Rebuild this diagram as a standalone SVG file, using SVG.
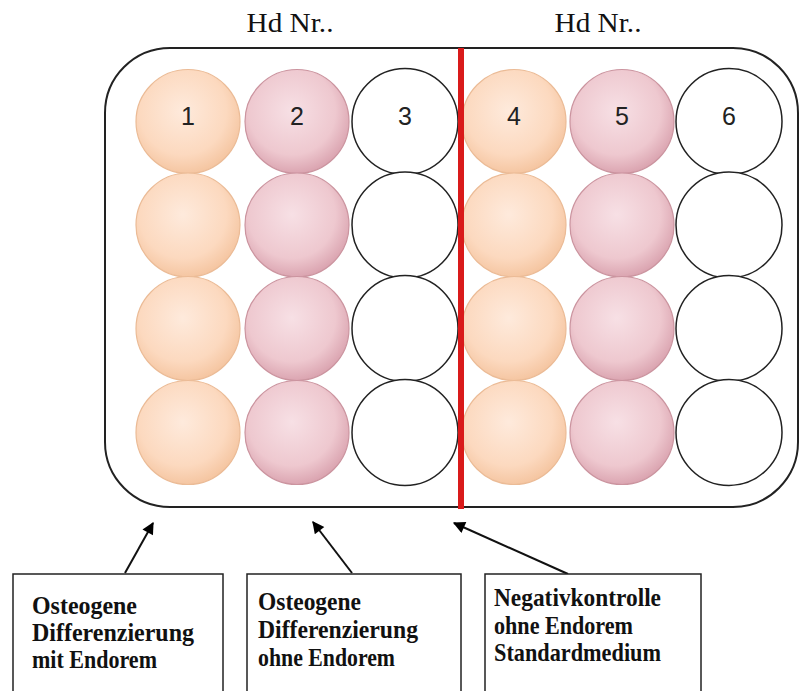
<svg xmlns="http://www.w3.org/2000/svg" width="803" height="691" viewBox="0 0 803 691">
<defs>
<radialGradient id="peach" cx="45%" cy="40%" r="60%">
<stop offset="0" stop-color="#feeadc"/>
<stop offset="0.7" stop-color="#fcd9bf"/>
<stop offset="1" stop-color="#f5c6a2"/>
</radialGradient>
<radialGradient id="pink" cx="45%" cy="40%" r="60%">
<stop offset="0" stop-color="#f7e0e5"/>
<stop offset="0.7" stop-color="#eec8cf"/>
<stop offset="1" stop-color="#dba5b1"/>
</radialGradient>
<marker id="ah" viewBox="0 0 10 10" refX="9" refY="5" markerWidth="7" markerHeight="6" orient="auto" markerUnits="strokeWidth">
<path d="M0,0 L10,5 L0,10 z" fill="#000"/>
</marker>
<style>
.pe{fill:url(#peach);stroke:#ebbb96;stroke-width:1.2}
.pk{fill:url(#pink);stroke:#cb949f;stroke-width:1.2}
.wh{fill:#fff;stroke:#222;stroke-width:1.5}
.num{font-family:"Liberation Sans","Open Sans",sans-serif;font-size:25px;fill:#222;text-anchor:middle}
.hd{font-family:"Liberation Serif",serif;font-size:27px;fill:#111;text-anchor:middle}
.lb{font-family:"Liberation Serif",serif;font-size:26px;font-weight:bold;fill:#111}
.box{fill:#fff;stroke:#222;stroke-width:1.5}
.conn{stroke:#111;stroke-width:2;fill:none;marker-end:url(#ah)}
</style>
</defs>
<rect width="803" height="691" fill="#fff"/>
<text class="hd" x="290" y="32" textLength="87" lengthAdjust="spacingAndGlyphs">Hd Nr..</text>
<text class="hd" x="598" y="32" textLength="87" lengthAdjust="spacingAndGlyphs">Hd Nr..</text>
<g id="plate">
<rect x="105" y="48" width="693" height="459" rx="65" ry="65" fill="#fff" stroke="#222" stroke-width="2"/>
</g>
<g id="col1">
<circle class="pe" cx="188" cy="121.5" r="52"/>
<circle class="pe" cx="188" cy="225" r="52"/>
<circle class="pe" cx="188" cy="328.5" r="52"/>
<circle class="pe" cx="188" cy="432.5" r="52"/>
<text class="num" x="188" y="125">1</text>
</g>
<g id="col2">
<circle class="pk" cx="297" cy="121.5" r="52"/>
<circle class="pk" cx="297" cy="225" r="52"/>
<circle class="pk" cx="297" cy="328.5" r="52"/>
<circle class="pk" cx="297" cy="432.5" r="52"/>
<text class="num" x="297" y="125">2</text>
</g>
<g id="col3">
<circle class="wh" cx="405" cy="121.5" r="53"/>
<circle class="wh" cx="405" cy="225" r="53"/>
<circle class="wh" cx="405" cy="328.5" r="53"/>
<circle class="wh" cx="405" cy="432.5" r="53"/>
<text class="num" x="405" y="125">3</text>
</g>
<g id="col4">
<circle class="pe" cx="514" cy="121.5" r="52"/>
<circle class="pe" cx="514" cy="225" r="52"/>
<circle class="pe" cx="514" cy="328.5" r="52"/>
<circle class="pe" cx="514" cy="432.5" r="52"/>
<text class="num" x="514" y="125">4</text>
</g>
<g id="col5">
<circle class="pk" cx="622" cy="121.5" r="52"/>
<circle class="pk" cx="622" cy="225" r="52"/>
<circle class="pk" cx="622" cy="328.5" r="52"/>
<circle class="pk" cx="622" cy="432.5" r="52"/>
<text class="num" x="622" y="125">5</text>
</g>
<g id="col6">
<circle class="wh" cx="729" cy="121.5" r="53"/>
<circle class="wh" cx="729" cy="225" r="53"/>
<circle class="wh" cx="729" cy="328.5" r="53"/>
<circle class="wh" cx="729" cy="432.5" r="53"/>
<text class="num" x="729" y="125">6</text>
</g>
<g id="divider">
<line x1="461" y1="48" x2="461" y2="509" stroke="#d91a1a" stroke-width="6"/>
</g>
<g id="connectors">
<line class="conn" x1="125" y1="573" x2="153" y2="523"/>
<line class="conn" x1="352" y1="573" x2="313" y2="522"/>
<line class="conn" x1="568" y1="574" x2="454" y2="523"/>
</g>
<g id="box1">
<rect class="box" x="13" y="574" width="210" height="130"/>
<text class="lb" x="32" y="614" textLength="105" lengthAdjust="spacingAndGlyphs">Osteogene</text>
<text class="lb" x="32" y="641" textLength="162" lengthAdjust="spacingAndGlyphs">Differenzierung</text>
<text class="lb" x="32" y="668" textLength="125" lengthAdjust="spacingAndGlyphs">mit Endorem</text>
</g>
<g id="box2">
<rect class="box" x="247" y="574" width="214" height="130"/>
<text class="lb" x="258" y="610" textLength="103" lengthAdjust="spacingAndGlyphs">Osteogene</text>
<text class="lb" x="258" y="638" textLength="160" lengthAdjust="spacingAndGlyphs">Differenzierung</text>
<text class="lb" x="258" y="666" textLength="137" lengthAdjust="spacingAndGlyphs">ohne Endorem</text>
</g>
<g id="box3">
<rect class="box" x="485" y="574" width="216" height="130"/>
<text class="lb" x="494" y="606" textLength="167" lengthAdjust="spacingAndGlyphs">Negativkontrolle</text>
<text class="lb" x="494" y="634" textLength="139" lengthAdjust="spacingAndGlyphs">ohne Endorem</text>
<text class="lb" x="494" y="661" textLength="167" lengthAdjust="spacingAndGlyphs">Standardmedium</text>
</g>
</svg>
